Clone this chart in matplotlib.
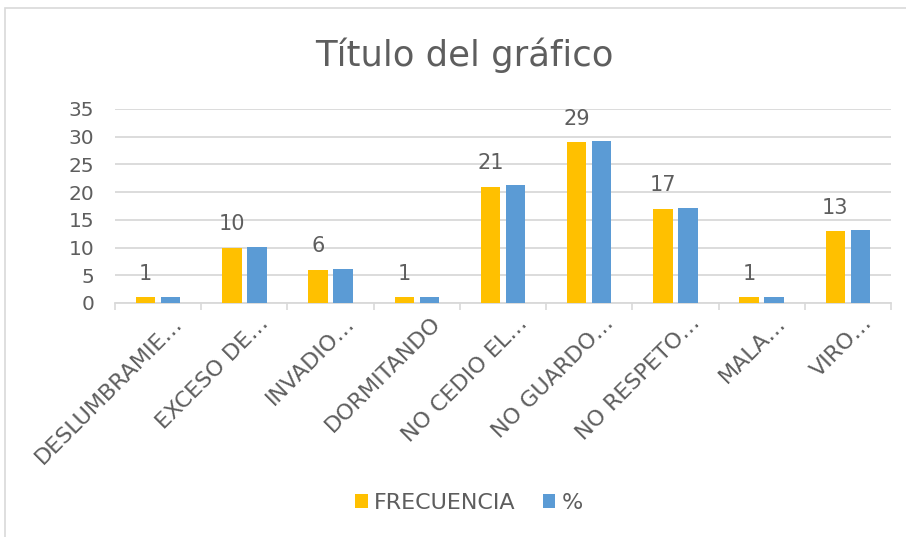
import numpy as np
import matplotlib
matplotlib.use("Agg")
import matplotlib.pyplot as plt
import matplotlib.transforms as mtransforms
from matplotlib.patches import Rectangle

categorias = ["DESLUMBRAMIE…", "EXCESO DE…", "INVADIO…", "DORMITANDO",
              "NO CEDIO EL…", "NO GUARDO…", "NO RESPETO…", "MALA…", "VIRO…"]
frecuencia = [1, 10, 6, 1, 21, 29, 17, 1, 13]
porcentaje = [1.01, 10.10, 6.06, 1.01, 21.21, 29.29, 17.17, 1.01, 13.13]

gold = "#FFC000"
blue = "#5B9BD5"
txt = "#5E5E5E"
grid = "#D9D9D9"

plt.rcParams["font.family"] = ["DejaVu Sans"]

fig = plt.figure(figsize=(9.06, 5.37), dpi=100)
fig.patches.append(Rectangle((5 / 906, -0.01), 1.0, 1 - 8 / 537 + 0.01,
                             transform=fig.transFigure, fill=False,
                             edgecolor=grid, linewidth=1.2))
ax = fig.add_axes([115 / 906, 1 - 303 / 537, (891 - 115) / 906, (303 - 109) / 537])

x = np.arange(len(categorias))
w = 0.225
off = 0.145
b1 = ax.bar(x - off, frecuencia, w, color=gold, label="FRECUENCIA", zorder=3)
b2 = ax.bar(x + off, porcentaje, w, color=blue, label="%", zorder=3)

for xi, v in zip(x, frecuencia):
    ax.annotate(str(v), (xi - off, v), xytext=(0, 12.5), textcoords="offset points",
                ha="center", va="baseline", fontsize=15, color=txt)

ax.set_xlim(-0.5, len(categorias) - 0.5)
ax.set_ylim(0, 35)
ax.set_yticks(range(0, 36, 5))
ax.yaxis.grid(True, color=grid, linewidth=1.3, zorder=0)
ax.tick_params(axis="y", length=0, labelsize=14.5, labelcolor=txt, pad=15)

ax.set_xticks(x)
ax.set_xticklabels(categorias, rotation=45, ha="right", rotation_mode="anchor",
                   fontsize=16, color=txt)
ax.tick_params(axis="x", length=0, pad=7)
shift = mtransforms.ScaledTranslation(14 / 100, 0, fig.dpi_scale_trans)
for lab in ax.get_xticklabels():
    lab.set_transform(lab.get_transform() + shift)
ax.set_xticks(np.arange(-0.5, len(categorias)), minor=True)
ax.tick_params(axis="x", which="minor", length=5, color=grid, width=1.2)

for s in ["top", "right", "left"]:
    ax.spines[s].set_visible(False)
ax.spines["bottom"].set_color(grid)
ax.spines["bottom"].set_linewidth(1.3)

fig.text(464 / 906, 1 - 66 / 537, "Título del gráfico", ha="center", va="baseline",
         fontsize=25.5, color=txt)

fig.legend(handles=[b1, b2], loc="center", bbox_to_anchor=(469 / 906, 1 - 503 / 537),
           ncol=2, frameon=False, fontsize=16, labelcolor=txt,
           handlelength=0.55, handleheight=0.55, handletextpad=0.3, columnspacing=1.2)

fig.savefig("out.png", dpi=100)
